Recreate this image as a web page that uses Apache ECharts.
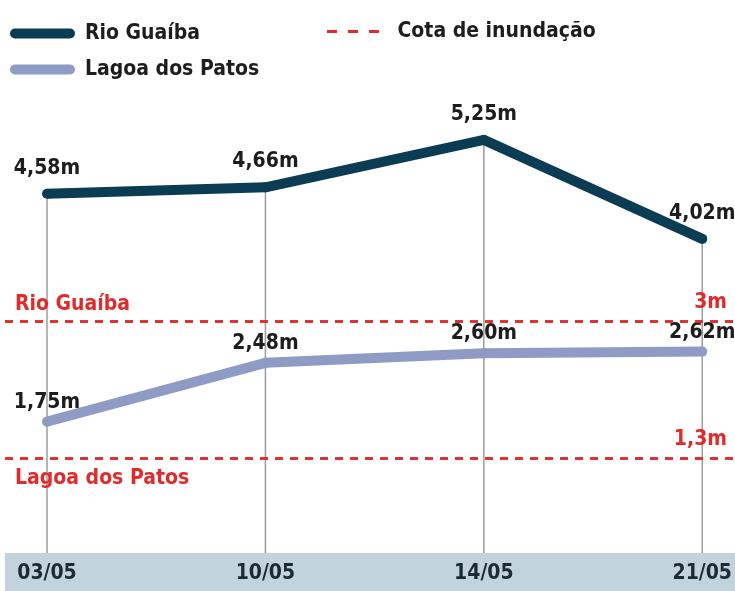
<!DOCTYPE html>
<html>
<head>
<meta charset="utf-8">
<script src="https://cdn.jsdelivr.net/npm/echarts@6/dist/echarts.min.js"></script>
<style>
html,body{margin:0;padding:0;background:#fff;}
#chart{width:735px;height:591px;}
</style>
</head>
<body>
<div id="chart"></div>
<script>
// ---- data ----
const categories = ['03/05', '10/05', '14/05', '21/05'];
const rioGuaiba = [4.58, 4.66, 5.25, 4.02];
const lagoaPatos = [1.75, 2.48, 2.60, 2.62];
const cotaRioGuaiba = 3;
const cotaLagoaPatos = 1.3;
const seriesNames = ['Rio Guaíba', 'Lagoa dos Patos', 'Cota de inundação'];

// ---- styles ----
const FONT = '"DejaVu Sans Condensed", "Liberation Sans Narrow", sans-serif';
const DARK = '#0a3d54';
const LAV = '#8e9bc4';
const RED = '#e32a2b';
const TXT = '#1d1d1d';

const fmtM = v => String(v).replace('.', ',') + 'm';
const fmt2 = v => v.toFixed(2).replace('.', ',') + 'm';

const chart = echarts.init(document.getElementById('chart'), null, {renderer: 'canvas'});

const option = {
  animation: false,
  backgroundColor: '#fff',
  textStyle: {fontFamily: FONT},
  graphic: [{
    type: 'rect', z: 1, silent: true,
    shape: {x: 5, y: 553, width: 730, height: 38},
    style: {fill: '#c3d3de'}
  }],
  legend: [{
    data: [seriesNames[0], seriesNames[1]],
    orient: 'vertical', left: 5, top: 18,
    itemWidth: 65, itemHeight: 10, itemGap: 15,
    icon: 'path://M5,0H60A5,5,0,0,1,60,10H5A5,5,0,0,1,5,0Z',
    textStyle: {fontFamily: FONT, fontWeight: 'bold', fontSize: 21, color: TXT, padding: [0, 0, 0, 5]},
    selectedMode: false
  }, {
    data: [seriesNames[2]],
    left: 322, top: 16,
    itemWidth: 53, itemHeight: 3, itemGap: 10,
    icon: 'path://M0,0h10v3h-10zM21,0h10v3h-10zM42,0h10v3h-10z',
    textStyle: {fontFamily: FONT, fontWeight: 'bold', fontSize: 21, color: TXT, padding: [0, 0, 0, 13]},
    selectedMode: false
  }],
  grid: [
    {left: 47, right: 28, top: 79.5, bottom: 28.5},
    {left: 5, right: 0, top: 79.5, bottom: 28.5}
  ],
  xAxis: [{
    type: 'category', gridIndex: 0, data: categories, boundaryGap: false, z: 3,
    axisLine: {show: false}, axisTick: {show: false}, splitLine: {show: false},
    axisLabel: {margin: 1, fontFamily: FONT, fontWeight: 'bold', fontSize: 21, color: '#1e2a33'}
  }, {
    type: 'value', gridIndex: 1, min: 0, max: 1, show: false
  }],
  yAxis: [
    {type: 'value', gridIndex: 0, min: 0, max: 6, show: false},
    {type: 'value', gridIndex: 1, min: 0, max: 6, show: false}
  ],
  series: [{
    name: 'guias', type: 'bar', xAxisIndex: 0, yAxisIndex: 0, z: 0, silent: true,
    data: rioGuaiba, barWidth: 1.5, itemStyle: {color: '#9c9c9c'}
  }, {
    name: seriesNames[2], type: 'line', xAxisIndex: 1, yAxisIndex: 1, z: 1, data: [],
    itemStyle: {color: RED}, lineStyle: {color: RED},
    markLine: {
      silent: true, symbol: 'none', animation: false,
      lineStyle: {color: RED, width: 2.5, type: [8, 7]},
      label: {fontFamily: FONT, fontWeight: 'bold', fontSize: 21, color: RED},
      emphasis: {disabled: true},
      data: [
        {yAxis: cotaRioGuaiba, label: {position: 'insideStartTop', distance: [10, 6], formatter: seriesNames[0]}},
        {yAxis: cotaRioGuaiba, label: {position: 'insideEndTop', distance: [8, 8], formatter: fmtM(cotaRioGuaiba)}},
        {yAxis: cotaLagoaPatos, label: {position: 'insideStartBottom', distance: [10, 10], formatter: seriesNames[1]}},
        {yAxis: cotaLagoaPatos, label: {position: 'insideEndTop', distance: [8, 8], formatter: fmtM(cotaLagoaPatos)}}
      ]
    }
  }, {
    name: seriesNames[0], type: 'line', xAxisIndex: 0, yAxisIndex: 0, z: 2,
    data: rioGuaiba, symbol: 'circle', symbolSize: 10, showSymbol: true,
    itemStyle: {color: DARK}, lineStyle: {color: DARK, width: 10, join: 'round'},
    label: {show: true, position: 'top', distance: 10, formatter: p => fmt2(p.value),
      fontFamily: FONT, fontWeight: 'bold', fontSize: 21, color: TXT}
  }, {
    name: seriesNames[1], type: 'line', xAxisIndex: 0, yAxisIndex: 0, z: 2,
    data: lagoaPatos, symbol: 'circle', symbolSize: 10, showSymbol: true,
    itemStyle: {color: LAV}, lineStyle: {color: LAV, width: 10, join: 'round'},
    label: {show: true, position: 'top', distance: 4, formatter: p => fmt2(p.value),
      fontFamily: FONT, fontWeight: 'bold', fontSize: 21, color: TXT}
  }]
};
chart.setOption(option);
</script>
</body>
</html>
